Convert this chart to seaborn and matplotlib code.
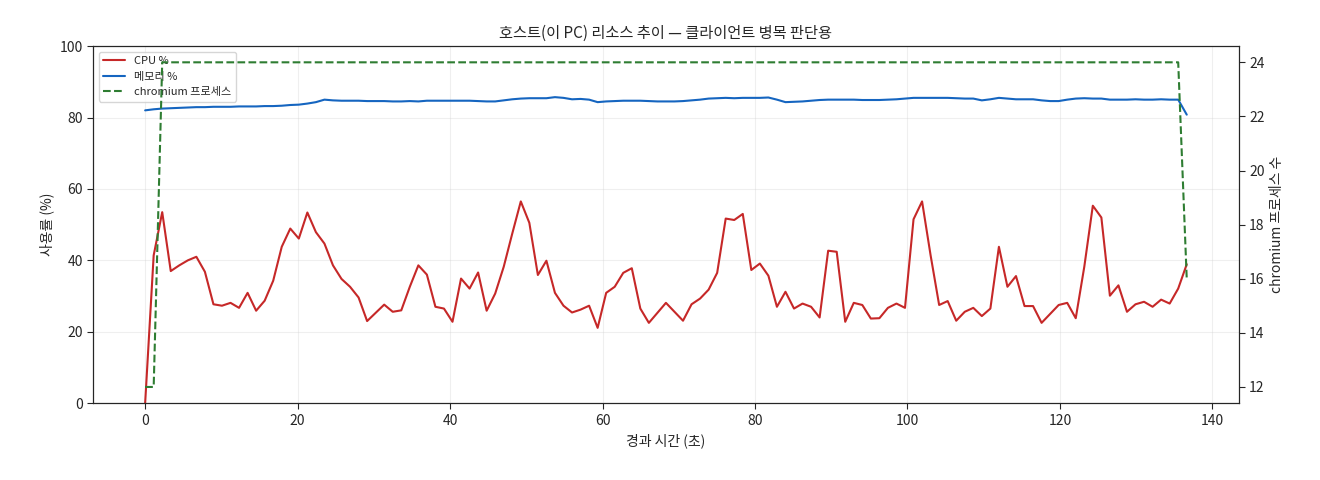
import numpy as np
import pandas as pd
import seaborn as sns
import matplotlib.pyplot as plt

SAMPLE_SEC = 1.12

cpu = [0, 41.4, 53.5, 37, 38.6, 40, 41, 36.8, 27.7, 27.3, 28.1, 26.7, 30.9, 25.9, 28.7,
       34.3, 43.8, 48.9, 46.1, 53.4, 47.9, 44.7, 38.6, 34.8, 32.6, 29.6, 23, 25.3, 27.6,
       25.6, 26, 32.6, 38.6, 36, 27, 26.5, 22.8, 34.9, 32.1, 36.6, 25.9, 30.7, 38.2, 47.5,
       56.5, 50.5, 35.9, 39.9,
       30.9, 27.3, 25.4, 26.2, 27.3, 21.1, 30.9, 32.6, 36.5, 37.8, 26.5, 22.5, 25.3, 28.1,
       25.6, 23.1, 27.7, 29.3, 31.8, 36.5, 51.7, 51.3, 53, 37.3, 39.1, 35.7, 27, 31.2, 26.5,
       27.9, 27, 24, 42.7, 42.4, 22.8, 28.1, 27.5, 23.7, 23.8, 26.7,
       27.9, 26.7, 51.5, 56.5, 41.4, 27.5, 28.6, 23.1, 25.6, 26.7, 24.4, 26.5, 43.8, 32.6,
       35.6, 27.2, 27.2, 22.5, 25, 27.5, 28.1, 23.8, 38.2, 55.3, 52, 30.1, 33, 25.6, 27.7,
       28.4, 27, 29, 27.9, 32.1, 38.9]

mem = [82.0, 82.3, 82.5, 82.6, 82.7, 82.8, 82.9, 82.9, 83.0, 83.0,
       83.0, 83.1, 83.1, 83.1, 83.2, 83.2, 83.3, 83.5, 83.6, 83.9,
       84.3, 85.0, 84.8, 84.7, 84.7, 84.7, 84.6, 84.6, 84.6, 84.5,
       84.5, 84.6, 84.5, 84.7, 84.7, 84.7, 84.7, 84.7, 84.7, 84.6,
       84.5, 84.5, 84.8, 85.1, 85.3, 85.4, 85.4, 85.4, 85.7, 85.5,
       85.1, 85.2, 85.0, 84.3, 84.5, 84.6, 84.7, 84.7, 84.7, 84.6,
       84.5, 84.5, 84.5, 84.6, 84.8, 85.0, 85.3, 85.4, 85.5, 85.4,
       85.5, 85.5, 85.5, 85.6, 85.0, 84.3, 84.4, 84.5, 84.7, 84.9,
       85.0, 85.0, 85.0, 85.0, 84.9, 84.9, 84.9, 85.0, 85.1, 85.3,
       85.5, 85.5, 85.5, 85.5, 85.5, 85.4, 85.3, 85.3, 84.8, 85.1,
       85.5, 85.3, 85.1, 85.1, 85.1, 84.8, 84.6, 84.6, 85.0, 85.3,
       85.4, 85.3, 85.3, 85.0, 85.0, 85.0, 85.1, 85.0, 85.0, 85.1,
       85.0, 85.0, 80.8]

chrome = [12, 12] + [24] * 120 + [16]

t = np.arange(len(cpu)) * SAMPLE_SEC
df = pd.DataFrame({"t": t, "cpu": cpu, "mem": mem, "chrome": chrome})

sns.set_style("white")
plt.rcParams["font.family"] = ["Noto Sans CJK KR", "DejaVu Sans"]
plt.rcParams["axes.unicode_minus"] = False

fig = plt.figure(figsize=(13.2, 4.8), dpi=100)
ax = fig.add_axes([0.0705, 0.160, 0.868, 0.744])
sns.lineplot(data=df, x="t", y="cpu", ax=ax, color="#c62828", lw=1.5, label="CPU %")
sns.lineplot(data=df, x="t", y="mem", ax=ax, color="#1565c0", lw=1.5, label="메모리 %")
ax.set_ylim(0, 100)
ax.set_xlabel("경과 시간 (초)", fontsize=10)
ax.set_ylabel("사용률 (%)", fontsize=10)
ax.set_title("호스트(이 PC) 리소스 추이 — 클라이언트 병목 판단용", fontsize=11)
ax.grid(True, alpha=0.3)
ax.tick_params(labelsize=10, length=4, left=True, bottom=True)
for s in ax.spines.values():
    s.set_color("black")

ax2 = ax.twinx()
sns.lineplot(data=df, x="t", y="chrome", ax=ax2, color="#2e7d32", lw=1.5, ls="--",
             label="chromium 프로세스")
ax2.set_ylabel("chromium 프로세스 수", fontsize=10)
ax2.tick_params(labelsize=10, length=4, right=True)
ax2.grid(False)

h1, l1 = ax.get_legend_handles_labels()
h2, l2 = ax2.get_legend_handles_labels()
ax2.get_legend().remove()
ax.legend(h1 + h2, l1 + l2, loc="upper left", fontsize=8, framealpha=0.8)

fig.savefig("out.png", dpi=100)
